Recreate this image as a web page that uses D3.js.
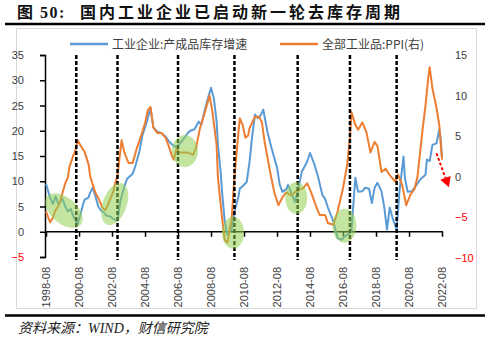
<!DOCTYPE html>
<html><head><meta charset="utf-8">
<script src="https://cdn.jsdelivr.net/npm/d3@7"></script>
<style>body{margin:0;background:#fff}svg{display:block}</style>
</head><body><svg id="c" width="500" height="342"></svg>
<script>
const invDates = ["1998-08","1998-11","1999-01","1999-03","1999-05","1999-08","1999-10","1999-12","2000-02","2000-04","2000-07","2000-09","2000-11","2000-12","2001-03","2001-04","2001-06","2001-08","2001-10","2001-12","2002-02","2002-04","2002-07","2002-09","2002-12","2003-02","2003-05","2003-07","2003-11","2004-01","2004-04","2004-06","2004-09","2004-12","2005-02","2005-05","2005-08","2005-11","2006-01","2006-04","2006-06","2006-08","2006-11","2007-03","2007-05","2007-08","2007-11","2008-01","2008-03","2008-05","2008-08","2008-10","2008-12","2009-01","2009-03","2009-04","2009-06","2009-08","2009-11","2010-01","2010-04","2010-05","2010-07","2010-10","2010-12","2011-02","2011-04","2011-06","2011-08","2011-10","2012-01","2012-04","2012-08","2012-10","2012-12","2013-03","2013-04","2013-07","2013-09","2013-11","2014-02","2014-06","2014-08","2014-11","2015-02","2015-05","2015-07","2015-09","2016-01","2016-04","2016-07","2016-09","2016-11","2017-02","2017-05","2017-07","2017-10","2017-12","2018-03","2018-05","2018-07","2018-09","2018-12","2019-02","2019-04","2019-06","2019-08","2019-11","2020-01","2020-04","2020-05","2020-07","2020-10","2020-12","2021-04","2021-08","2021-09","2021-11","2022-01","2022-04","2022-06","2022-07","2022-08"];
const invValues = [9.5,6.7,5.5,7.0,5.5,6.5,5.0,4.0,4.5,3.0,1.5,3.4,5.5,6.3,6.8,7.7,8.7,7.0,5.0,4.2,3.8,3.2,3.0,2.5,2.2,6.0,9.0,10.5,11.5,13.0,16.0,19.0,21.5,24.5,20.6,19.8,19.5,18.8,18.0,17.2,16.8,17.0,18.0,19.5,20.0,20.3,21.8,21.2,23.5,25.7,28.5,26.5,22.0,17.2,12.0,8.0,2.0,-0.6,0.5,4.0,7.0,8.6,9.0,9.9,13.8,19.2,23.2,22.5,23.0,24.2,19.8,16.6,12.7,9.3,7.9,8.5,9.3,7.3,5.9,7.9,11.9,13.9,15.6,13.5,10.7,7.3,6.5,4.8,2.0,-1.2,-1.6,-1.0,-0.6,0.0,10.7,7.9,8.0,8.7,8.5,5.7,8.7,9.7,8.0,4.8,0.4,4.8,2.8,0.4,7.9,14.9,10.7,7.9,8.0,8.7,10.3,11.3,14.3,14.0,17.2,17.5,20.2,18.6,14.7];

const ppiDates = ["1998-08","1998-11","1999-01","1999-03","1999-05","1999-06","1999-08","1999-10","1999-12","2000-01","2000-04","2000-05","2000-07","2000-09","2000-10","2000-12","2001-03","2001-04","2001-06","2001-08","2001-10","2002-01","2002-03","2002-05","2002-07","2002-09","2002-10","2002-12","2003-03","2003-05","2003-08","2003-11","2004-02","2004-06","2004-08","2004-10","2004-12","2005-02","2005-05","2005-08","2005-11","2006-01","2006-04","2006-05","2006-07","2006-09","2007-03","2007-07","2007-09","2007-12","2008-04","2008-07","2008-09","2008-12","2009-01","2009-04","2009-06","2009-08","2009-11","2010-01","2010-04","2010-05","2010-07","2010-09","2010-11","2010-12","2011-04","2011-07","2011-09","2011-11","2012-03","2012-06","2012-09","2012-12","2013-03","2013-06","2013-09","2013-12","2014-03","2014-06","2014-09","2015-01","2015-03","2015-07","2015-09","2016-01","2016-04","2016-08","2016-11","2017-01","2017-02","2017-05","2017-07","2017-10","2018-01","2018-04","2018-07","2018-09","2018-12","2019-03","2019-06","2019-10","2019-12","2020-03","2020-06","2020-09","2020-12","2021-02","2021-06","2021-08","2021-10","2021-11","2022-01","2022-04","2022-06","2022-08"];
const ppiValues = [-4.3,-5.6,-5.0,-4.1,-3.6,-3.2,-2.0,-0.8,0.0,1.2,2.7,3.0,4.5,3.9,3.6,3.1,1.5,0.2,-1.0,-2.0,-2.6,-3.8,-4.1,-3.5,-2.6,-1.8,-1.0,0.2,4.5,3.0,1.7,1.7,3.5,5.5,6.6,8.2,8.6,6.1,5.4,5.4,4.8,3.9,2.4,2.1,3.5,3.0,3.0,2.7,3.5,6.0,8.2,10.0,8.0,4.0,-0.1,-5.0,-7.8,-8.1,-5.1,-0.1,5.5,7.2,6.4,4.8,5.1,6.0,7.4,7.4,6.7,4.3,0.6,-1.9,-3.5,-2.5,-1.9,-2.3,-1.9,-1.6,-1.4,-0.8,-2.0,-3.9,-4.7,-4.7,-5.7,-5.9,-4.3,-1.4,1.5,4.8,8.0,6.4,5.8,6.7,5.5,3.0,4.3,3.8,0.6,1.0,0.2,-0.6,0.3,-1.0,-3.5,-2.2,-1.5,-0.1,6.0,8.8,12.2,13.5,10.9,8.5,6.4,2.1];

const xTickLabels = ["1998-08","2000-08","2002-08","2004-08","2006-08","2008-08","2010-08","2012-08","2014-08","2016-08","2018-08","2020-08","2022-08"];
const leftTicks = [-5,0,5,10,15,20,25,30,35];
const rightTicks = [-10,-5,0,5,10,15];
const cycleDates = ["2000-06","2002-12","2006-08","2010-01","2013-11","2017-01","2019-11"];
const markDates = ["1999-09","2002-10","2007-01","2009-12","2013-10","2016-09"];
const markValues = [4.2,5.5,16.0,-0.2,6.7,1.2];
const arrowDates = ["2022-04","2023-01"];
const arrowValues = [2.9,-1.3];
const seriesNames = ["工业企业:产成品库存增速","全部工业品:PPI(右)"];

const parse = d3.timeParse("%Y-%m");
const svg = d3.select("#c");
const txt = "#404040";
const blue = "#5B9BD5", orange = "#ED7D31";

const x = d3.scaleTime().domain([parse("1998-08"), parse("2022-08")]).range([46, 442]);
const yL = d3.scaleLinear().domain([-5, 35]).range([257, 55]);
const yR = d3.scaleLinear().domain([-10, 15]).range([258, 55]);

// title
svg.append("text").attr("x", 17).attr("y", 18)
  .attr("font-family", "'Liberation Serif','Noto Sans CJK SC'")
  .attr("font-weight", "bold").attr("font-size", 16).attr("letter-spacing", 1.5).attr("fill", "#111")
  .text("图 50:");
svg.append("text").attr("x", 80).attr("y", 18)
  .attr("font-family", "'Noto Sans CJK SC'").attr("font-weight", "bold")
  .attr("font-size", 16).attr("letter-spacing", 3).attr("fill", "#111")
  .text("国内工业企业已启动新一轮去库存周期");
svg.append("line").attr("x1", 5).attr("x2", 485).attr("y1", 24).attr("y2", 24)
  .attr("stroke", "#000").attr("stroke-width", 2.5);
// panel
svg.append("rect").attr("x", 16.5).attr("y", 28.5).attr("width", 460).attr("height", 280)
  .attr("fill", "#fff").attr("stroke", "#D9D9D9").attr("stroke-width", 1);
svg.append("line").attr("x1", 5).attr("x2", 485).attr("y1", 315.5).attr("y2", 315.5)
  .attr("stroke", "#000").attr("stroke-width", 2.5);
svg.append("text").attr("x", 18).attr("y", 333)
  .attr("font-family", "'Liberation Serif','Noto Sans CJK SC'")
  .attr("font-style", "italic").attr("font-size", 14).attr("fill", "#222")
  .text("资料来源：WIND，财信研究院");

// legend
const lg = [{x: 70, c: blue}, {x: 280, c: orange}];
lg.forEach((l, i) => {
  svg.append("line").attr("x1", l.x).attr("x2", l.x + 38).attr("y1", 44).attr("y2", 44)
    .attr("stroke", l.c).attr("stroke-width", 2.5);
  svg.append("text").attr("x", l.x + 42).attr("y", 48.5)
    .attr("font-family", "'Noto Sans CJK SC'").attr("font-size", 12).attr("fill", txt)
    .text(seriesNames[i]);
});

// left axis
const gL = svg.append("g").attr("transform", "translate(45,0)")
  .call(d3.axisLeft(yL).tickValues(leftTicks).tickSize(5).tickPadding(16));
gL.select(".domain").attr("stroke", "#000").attr("stroke-width", 1.5);
gL.selectAll(".tick line").attr("stroke", "#000").attr("stroke-width", 1.5);
gL.selectAll(".tick text").attr("font-family", "'Liberation Sans'").attr("font-size", 11)
  .attr("fill", d => d < 0 ? "#FF0000" : txt);

// right axis (labels only)
const gR = svg.append("g").attr("transform", "translate(443,0)")
  .call(d3.axisRight(yR).tickValues(rightTicks).tickSize(0).tickPadding(12));
gR.select(".domain").remove();
gR.selectAll(".tick text").attr("font-family", "'Liberation Sans'").attr("font-size", 11)
  .attr("fill", d => d < 0 ? "#FF0000" : txt);

// x axis at 0
const gX = svg.append("g").attr("transform", `translate(0,${yL(0)})`)
  .call(d3.axisBottom(x).tickValues(xTickLabels.map(parse)).tickSize(5)
    .tickFormat(d3.timeFormat("%Y-%m")));
gX.select(".domain").attr("stroke", "#000").attr("stroke-width", 1.5)
  .attr("d", `M45,0H443`);
gX.selectAll(".tick line").attr("stroke", "#000").attr("stroke-width", 1.5);
gX.selectAll(".tick text").attr("font-family", "'Liberation Sans'").attr("font-size", 11)
  .attr("fill", txt).attr("transform", "rotate(-90)").attr("text-anchor", "end")
  .attr("x", -(267 - yL(0))).attr("y", 0).attr("dy", "0.35em");

// series
const lineL = d3.line().x(d => x(d[0])).y(d => yL(d[1]));
const lineR = d3.line().x(d => x(d[0])).y(d => yR(d[1]));
svg.append("path").datum(invDates.map((d, i) => [parse(d), invValues[i]]))
  .attr("d", lineL).attr("fill", "none").attr("stroke", blue).attr("stroke-width", 2)
  .attr("stroke-linejoin", "round");
svg.append("path").datum(ppiDates.map((d, i) => [parse(d), ppiValues[i]]))
  .attr("d", lineR).attr("fill", "none").attr("stroke", orange).attr("stroke-width", 2)
  .attr("stroke-linejoin", "round");

// cycle dashed lines
svg.selectAll(".cyc").data(cycleDates).enter().append("line")
  .attr("x1", d => x(parse(d))).attr("x2", d => x(parse(d)))
  .attr("y1", 55).attr("y2", 260)
  .attr("stroke", "#000").attr("stroke-width", 2.5).attr("stroke-dasharray", "4,2");

// green marks
const radii = [[22, 13, 40], [12, 22, 20], [13, 16, 0], [11, 16, 0], [11, 16, 0], [12, 17, 0]];
markDates.forEach((d, i) => {
  const cx = x(parse(d)), cy = yL(markValues[i]);
  svg.append("ellipse").attr("cx", cx).attr("cy", cy)
    .attr("rx", radii[i][0]).attr("ry", radii[i][1])
    .attr("transform", `rotate(${radii[i][2]},${cx},${cy})`)
    .attr("fill", "#92D050").attr("fill-opacity", 0.55);
});

// red arrow
const ax1 = x(parse(arrowDates[0])), ay1 = yR(arrowValues[0]);
const ax2 = x(parse(arrowDates[1])), ay2 = yR(arrowValues[1]);
const ang = Math.atan2(ay2 - ay1, ax2 - ax1);
const hl = 10, hw = 5.5;
const bx = ax2 - hl * Math.cos(ang), by = ay2 - hl * Math.sin(ang);
svg.append("line").attr("x1", ax1).attr("y1", ay1).attr("x2", bx).attr("y2", by)
  .attr("stroke", "#FF0000").attr("stroke-width", 2).attr("stroke-dasharray", "3,2");
svg.append("path").attr("fill", "#FF0000")
  .attr("d", `M${ax2},${ay2}L${bx + hw * Math.sin(ang)},${by - hw * Math.cos(ang)}L${bx - hw * Math.sin(ang)},${by + hw * Math.cos(ang)}Z`);
</script></body></html>
